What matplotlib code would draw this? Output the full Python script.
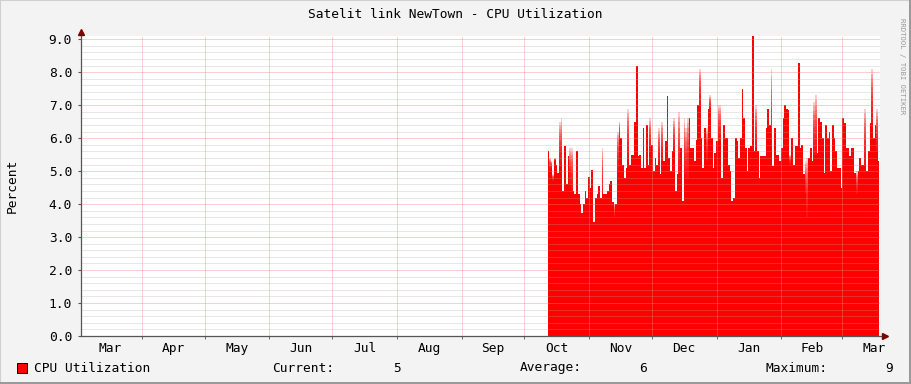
import matplotlib.pyplot as plt
import numpy as np
from matplotlib.patches import Rectangle

# days counted from Mar 1 (day 0); data runs from mid Oct to mid Mar
months = ["Mar", "Apr", "May", "Jun", "Jul", "Aug", "Sep", "Oct", "Nov", "Dec", "Jan", "Feb", "Mar"]
month_start = [0, 31, 61, 92, 122, 153, 184, 214, 245, 275, 306, 337, 366, 397]
start_day, end_day = 225.3, 383.7

# solid top of the area (percent)
cpu = [5.6, 5.0, 5.1, 4.7, 5.3, 5.2, 4.95, 5.2, 5.2, 4.4, 5.77, 4.6, 5.45, 4.6, 4.4, 4.4, 4.3, 5.6, 4.3, 4.0,
       3.72, 4.0, 4.4, 4.2, 4.83, 4.5, 5.05, 3.46, 4.2, 4.3, 4.55, 4.2, 4.3, 4.3, 4.3, 4.4, 4.6, 4.7, 4.05, 3.6,
       4.0, 5.0, 6.0, 6.0, 5.2, 4.8, 5.1, 5.4, 5.2, 5.5, 5.5, 6.5, 8.2, 5.45, 5.5, 5.1, 6.3, 5.1, 6.4, 5.2,
       5.6, 5.8, 5.0, 5.4, 5.2, 5.3, 4.9, 5.3, 5.3, 5.9, 7.27, 5.4, 5.0, 5.6, 5.6, 4.4, 4.9, 4.9, 5.7, 4.1,
       4.9, 4.8, 4.8, 6.6, 5.7, 5.7, 5.3, 5.95, 7.0, 7.0, 6.0, 5.1, 6.3, 5.3, 6.9, 6.85, 6.0, 5.1, 5.55, 5.9,
       5.9, 5.9, 4.8, 6.4, 6.0, 6.0, 5.2, 5.0, 4.1, 4.2, 6.0, 5.9, 5.4, 6.0, 7.5, 6.6, 5.7, 5.0, 5.7, 5.75,
       9.1, 5.6, 5.7, 5.6, 4.8, 5.45, 5.45, 5.45, 6.3, 6.9, 6.4, 5.7, 5.15, 6.3, 5.5, 5.5, 5.3, 5.7, 6.6, 7.0,
       6.9, 6.85, 5.2, 6.0, 5.2, 5.75, 5.75, 8.27, 5.7, 5.8, 4.9, 4.3, 3.6, 5.4, 5.7, 5.3, 5.5, 5.5, 5.55, 6.6,
       6.5, 6.0, 4.95, 6.4, 6.0, 6.2, 5.0, 6.4, 6.0, 5.6, 5.1, 5.1, 4.5, 6.6, 6.45, 5.7, 5.7, 5.45, 5.7, 5.7,
       4.95, 4.3, 5.0, 5.4, 5.2, 5.2, 5.2, 5.0, 5.6, 6.45, 6.45, 6.0, 6.4, 5.6, 5.3]

# faded top (short spikes within a pixel column)
peak = [5.6, 5.4, 5.3, 4.9, 5.4, 5.2, 4.95, 6.5, 6.6, 4.4, 5.77, 4.6, 5.45, 5.7, 5.7, 4.4, 4.3, 5.6, 4.3, 4.0,
        3.72, 4.0, 4.4, 4.2, 4.83, 4.5, 5.05, 3.46, 4.2, 4.3, 4.55, 4.2, 5.7, 4.3, 4.3, 4.4, 4.6, 4.7, 4.05, 4.0,
        4.0, 6.2, 6.5, 6.0, 5.2, 4.8, 5.1, 6.9, 5.2, 5.5, 5.5, 6.5, 8.2, 5.45, 5.5, 5.1, 6.3, 5.1, 6.4, 5.2,
        6.6, 5.8, 5.0, 5.4, 5.2, 6.3, 4.9, 6.5, 5.3, 5.9, 7.27, 5.4, 5.0, 5.6, 6.6, 4.4, 4.9, 6.8, 5.7, 4.1,
        6.6, 6.3, 6.6, 6.6, 5.7, 5.7, 5.3, 5.95, 7.0, 8.1, 6.0, 5.1, 6.3, 6.3, 6.9, 7.3, 6.0, 5.1, 5.55, 5.9,
        7.0, 7.0, 4.8, 6.4, 6.0, 6.0, 5.2, 5.0, 4.1, 4.2, 6.0, 5.9, 5.4, 6.0, 7.5, 6.6, 5.7, 5.0, 5.7, 5.75,
        9.1, 5.6, 7.0, 5.6, 4.8, 5.45, 5.45, 5.45, 6.3, 6.9, 6.4, 8.1, 5.15, 6.3, 5.5, 5.5, 5.3, 5.7, 6.6, 7.0,
        6.9, 6.85, 5.5, 6.0, 5.2, 5.75, 5.75, 8.27, 5.7, 5.8, 4.9, 5.3, 5.4, 5.4, 5.7, 5.3, 7.1, 7.3, 5.55, 6.6,
        6.5, 6.0, 4.95, 6.4, 6.0, 6.2, 5.0, 6.4, 6.0, 5.6, 5.1, 5.1, 4.5, 6.6, 6.45, 5.7, 5.7, 5.45, 5.7, 5.7,
        4.95, 5.0, 5.0, 5.4, 5.2, 5.2, 6.9, 5.0, 5.6, 6.45, 8.1, 6.0, 6.4, 6.9, 5.3]

legend_current, legend_average, legend_maximum = "5", "6", "9"

W, H = 911, 384
fig = plt.figure(figsize=(W / 100, H / 100), dpi=100, facecolor="#f3f3f3")
ax = fig.add_axes([81 / W, (H - 336) / H, 799 / W, 300 / H])
ax.set_facecolor("white")
mono = "DejaVu Sans Mono"
fs = 9.3

x = np.linspace(start_day, end_day, len(cpu))
lo = np.array(cpu)
hi = np.maximum(np.array(peak), lo)

ax.fill_between(x, 0, lo, step="mid", color="#ff0000", lw=0, zorder=2)
# gradient on the faded spikes, built from stacked translucent layers
for t in np.linspace(0.08, 1, 12):
    ax.fill_between(x, lo, lo + (hi - lo) * t, step="mid", color="#ff0000",
                    alpha=0.2, lw=0, zorder=2)

ax.set_xlim(1.8, 384.2)
ax.set_ylim(0, 9.1)

# dotted grid
dots = dict(lw=0.72, ls=(0, (1, 1)), zorder=3)
for v in np.arange(0.2, 9.1, 0.2):
    if abs(v - round(v)) < 1e-6:
        ax.axhline(v, color="#f08080", alpha=0.75, **dots)
    else:
        ax.axhline(v, color="#a8a8a8", alpha=0.55, **dots)
for d in month_start[1:-1]:
    ax.axvline(d, color="#f08080", alpha=0.75, **dots)

ax.set_yticks(np.arange(0, 9.1, 1.0))
ax.set_yticklabels([f"{v:.1f}" for v in np.arange(0, 9.1, 1.0)], family=mono, fontsize=fs)
centers = [(a + b) / 2 for a, b in zip(month_start[:-1], month_start[1:])]
ax.set_xticks(centers)
ax.set_xticklabels(months, family=mono, fontsize=fs)
ax.set_xticks(month_start[1:-1], minor=True)
ax.tick_params(axis="x", which="major", length=0, pad=4)
ax.tick_params(axis="x", which="minor", length=2, color="#555555")
ax.tick_params(axis="y", length=2, color="#555555", pad=4.5)

for s in ["top", "right", "left", "bottom"]:
    ax.spines[s].set_visible(False)
ax.plot([0, 0], [0, 1.01], transform=ax.transAxes, color="#555555", lw=0.9, clip_on=False, zorder=4)
ax.plot([0, 1.005], [0, 0], transform=ax.transAxes, color="#555555", lw=0.9, clip_on=False, zorder=4)
ax.plot([0], [1.015], transform=ax.transAxes, marker="^", ms=4, color="#800000", clip_on=False, zorder=5)
ax.plot([1.006], [0], transform=ax.transAxes, marker=">", ms=4, color="#800000", clip_on=False, zorder=5)

fig.text(455 / W, 1 - 14 / H, "Satelit link NewTown - CPU Utilization", family=mono,
         fontsize=fs, ha="center", va="center")
fig.text(12 / W, 1 - 186 / H, "Percent", family=mono, fontsize=fs, rotation=90,
         ha="center", va="center")
fig.text(902 / W, 1 - 18 / H, "RRDTOOL / TOBI OETIKER", family=mono, fontsize=5.2,
         rotation=270, ha="center", va="top", color="#999999")

ly = 1 - 368 / H
fig.patches.append(Rectangle((17 / W, 1 - 373 / H), 10 / W, 10 / H, transform=fig.transFigure,
                             facecolor="#ff0000", edgecolor="black", lw=0.7))
fig.text(34 / W, ly, "CPU Utilization", family=mono, fontsize=fs, va="center")
fig.text(272 / W, ly, "Current:", family=mono, fontsize=fs, va="center")
fig.text(401 / W, ly, legend_current, family=mono, fontsize=fs, va="center", ha="right")
fig.text(520 / W, ly, "Average:", family=mono, fontsize=fs, va="center")
fig.text(647 / W, ly, legend_average, family=mono, fontsize=fs, va="center", ha="right")
fig.text(765 / W, ly, "Maximum:", family=mono, fontsize=fs, va="center")
fig.text(893 / W, ly, legend_maximum, family=mono, fontsize=fs, va="center", ha="right")

# 3d frame
fig.patches.append(Rectangle((0, 0), 1, 1, transform=fig.transFigure, fill=False,
                             edgecolor="#d0d0d0", lw=1.5))
fig.patches.append(Rectangle((0, 0), 1, 2.5 / H, transform=fig.transFigure, color="#9a9a9a", lw=0))
fig.patches.append(Rectangle((1 - 2.5 / W, 0), 2.5 / W, 1, transform=fig.transFigure, color="#9a9a9a", lw=0))

fig.savefig("out.png", dpi=100, facecolor=fig.get_facecolor())
